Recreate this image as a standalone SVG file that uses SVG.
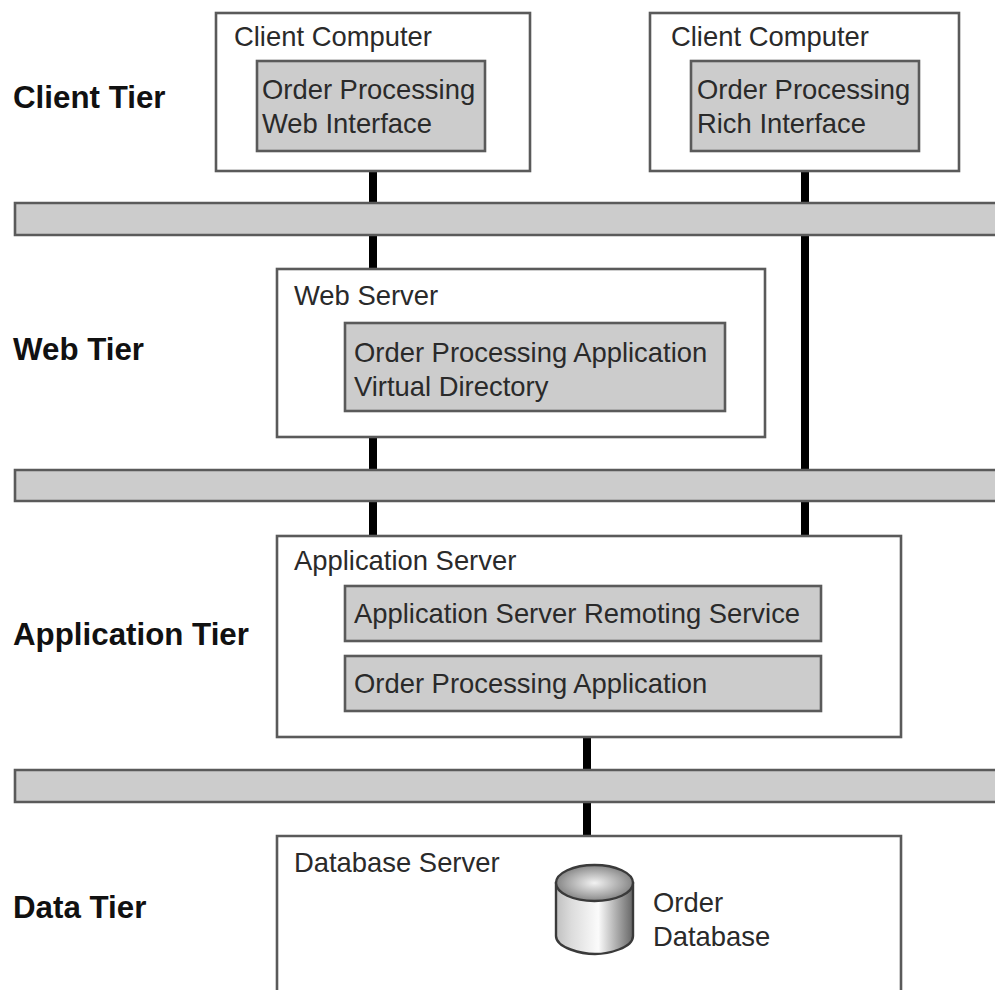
<svg xmlns="http://www.w3.org/2000/svg" width="995" height="990" viewBox="0 0 995 990">
<style>
text{font-family:"Liberation Sans",Arial,sans-serif;font-size:27.4px;fill:#2a2a2a}
.t{font-weight:bold;fill:#111;font-size:31.3px}
.o{fill:#fff;stroke:#5a5a5a;stroke-width:2.600}
.g{fill:#ccc;stroke:#5a5a5a;stroke-width:2.600}
.c{stroke:#000;stroke-width:8;fill:none}
.cyl{stroke:#3a3a3a;stroke-width:2.400}
</style>
<defs>
<linearGradient id="body" x1="0" x2="1" y1="0" y2="0">
<stop offset="0" stop-color="#c0c0c0"/><stop offset=".2" stop-color="#dcdcdc"/><stop offset=".55" stop-color="#fbfbfb"/><stop offset=".8" stop-color="#a8a8a8"/><stop offset="1" stop-color="#666"/>
</linearGradient>
<radialGradient id="top" cx=".5" cy=".5" r=".6">
<stop offset="0" stop-color="#f2f2f2"/><stop offset=".6" stop-color="#a6a6a6"/><stop offset="1" stop-color="#6e6e6e"/>
</radialGradient>
</defs>
<rect width="995" height="990" fill="#fff"/>
<g id="connectors">
<path class="c" d="M373 170V470M373 500V536M805 170V536M587 737V836"/>
</g>
<g id="bus1"><path class="g" d="M995 203H15V235H995"/></g>
<g id="bus2"><path class="g" d="M995 470H15V501H995"/></g>
<g id="bus3"><path class="g" d="M995 770H15V802H995"/></g>
<g id="client-tier"><text class="t" x="13" y="108">Client Tier</text></g>
<g id="web-tier"><text class="t" x="13" y="360">Web Tier</text></g>
<g id="application-tier"><text class="t" x="13" y="645">Application Tier</text></g>
<g id="data-tier"><text class="t" x="13" y="918">Data Tier</text></g>
<g id="client1">
<rect class="o" x="216" y="13" width="314" height="158"/>
<text x="234" y="46">Client Computer</text>
<rect class="g" x="257" y="61" width="228" height="90"/>
<text x="262" y="99">Order Processing</text>
<text x="262" y="133">Web Interface</text>
</g>
<g id="client2">
<rect class="o" x="650" y="13" width="309" height="158"/>
<text x="671" y="46">Client Computer</text>
<rect class="g" x="691" y="61" width="228" height="90"/>
<text x="697" y="99">Order Processing</text>
<text x="697" y="133">Rich Interface</text>
</g>
<g id="web-server">
<rect class="o" x="277" y="269" width="488" height="168"/>
<text x="294" y="305">Web Server</text>
<rect class="g" x="345" y="323" width="380" height="88"/>
<text x="354" y="362">Order Processing Application</text>
<text x="354" y="396">Virtual Directory</text>
</g>
<g id="application-server">
<rect class="o" x="277" y="536" width="624" height="201"/>
<text x="294" y="570">Application Server</text>
<rect class="g" x="345" y="586" width="476" height="55"/>
<text x="354" y="623">Application Server Remoting Service</text>
<rect class="g" x="345" y="656" width="476" height="55"/>
<text x="354" y="693">Order Processing Application</text>
</g>
<g id="database-server">
<path class="o" d="M277 990V836H901V990"/>
<text x="294" y="872">Database Server</text>
<g id="order-database">
<path class="cyl" fill="url(#body)" d="M556 883V936C556 948 582 954 595 954C608 954 633 948 633 936V883Z"/>
<ellipse class="cyl" fill="url(#top)" cx="594.500" cy="883" rx="38.500" ry="18"/>
<text x="653" y="912">Order</text>
<text x="653" y="946">Database</text>
</g>
</g>
</svg>
